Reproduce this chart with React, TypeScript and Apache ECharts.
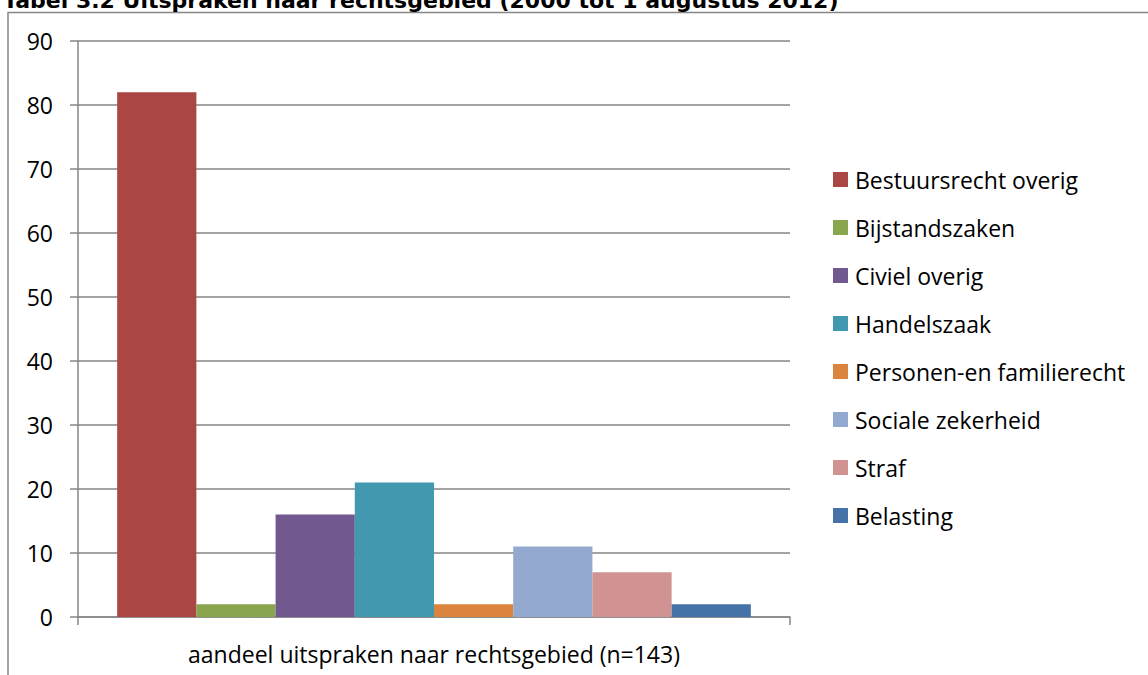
import React, { useEffect, useRef } from "react";
import * as echarts from "echarts";

const categories = ["aandeel uitspraken naar rechtsgebied (n=143)"];
const seriesNames = [
  "Bestuursrecht overig",
  "Bijstandszaken",
  "Civiel overig",
  "Handelszaak",
  "Personen-en familierecht",
  "Sociale zekerheid",
  "Straf",
  "Belasting",
];
const seriesValues = [82, 2, 16, 21, 2, 11, 7, 2];
const seriesColors = [
  "#AA4643",
  "#89A54E",
  "#71588F",
  "#4198AF",
  "#DB843D",
  "#93A9CF",
  "#D19392",
  "#4572A7",
];
const titleText = "Tabel 3.2 Uitspraken naar rechtsgebied (2000 tot 1 augustus 2012)";

const FONT = "'Open Sans', Lato, sans-serif";
const FS = 23;

export default function App() {
  const ref = useRef<HTMLDivElement>(null);
  useEffect(() => {
    if (!ref.current) return;
    const chart = echarts.init(ref.current, undefined, { renderer: "svg" });
    chart.setOption({
      animation: false,
      backgroundColor: "#ffffff",
      grid: { left: 78, right: 358, top: 41, bottom: 58, containLabel: false },
      graphic: [
        {
          type: "rect",
          shape: { x: 8, y: 12.5, width: 1300, height: 800 },
          style: { fill: "none", stroke: "#868686", lineWidth: 1.5 },
          silent: true,
        },
        {
          type: "text",
          x: 3,
          y: 11,
          style: {
            text: titleText,
            font: "bold 22px 'DejaVu Sans', Verdana, sans-serif",
            fill: "#000000",
            verticalAlign: "bottom",
            align: "left",
          },
        },
      ],
      legend: {
        orient: "vertical",
        left: 828,
        top: 163,
        icon: "rect",
        itemWidth: 15,
        itemHeight: 15,
        itemGap: 25,
        selectedMode: false,
        textStyle: { fontSize: FS, color: "#000000", fontFamily: FONT, padding: [0, 0, 0, 2] },
        data: seriesNames,
      },
      xAxis: {
        type: "category",
        data: categories,
        boundaryGap: true,
        axisLine: { show: true, lineStyle: { color: "#868686", width: 1.5 } },
        axisTick: { show: true, length: 8, lineStyle: { color: "#868686", width: 1.5 } },
        axisLabel: { fontSize: FS, color: "#000000", fontFamily: FONT, margin: 25 },
      },
      yAxis: {
        type: "value",
        min: 0,
        max: 90,
        interval: 10,
        axisLine: { show: true, lineStyle: { color: "#868686", width: 1.5 } },
        axisTick: { show: true, length: 8, lineStyle: { color: "#868686", width: 1.5 } },
        splitLine: { show: true, lineStyle: { color: "#868686", width: 1.5 } },
        axisLabel: { fontSize: FS, color: "#000000", fontFamily: FONT, margin: 25 },
      },
      series: seriesNames.map((name, i) => ({
        name,
        type: "bar",
        data: [seriesValues[i]],
        itemStyle: { color: seriesColors[i] },
        barGap: "0%",
        barCategoryGap: "11%",
      })),
    });
    return () => chart.dispose();
  }, []);
  return (
    <div
      ref={ref}
      style={{ position: "fixed", left: 0, top: 0, width: 1148, height: 675, background: "#fff" }}
    />
  );
}
